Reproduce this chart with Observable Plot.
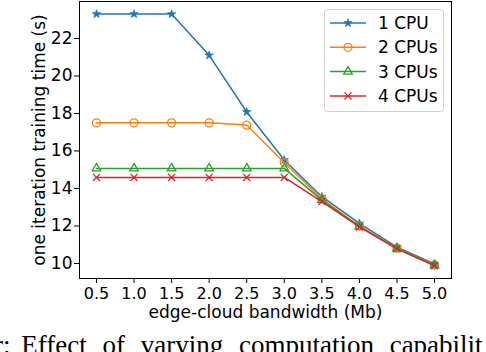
<!DOCTYPE html>
<html><head><meta charset="utf-8">
<script src="https://cdn.jsdelivr.net/npm/d3@7"></script>
<script src="https://cdn.jsdelivr.net/npm/@observablehq/plot@0.6"></script>
<style>
body{margin:0;background:#fff;}
#wrap{position:relative;width:486px;height:352px;overflow:hidden;background:#fff;}
#caption{position:absolute;left:-6px;top:332px;font-family:"Liberation Serif";font-size:27px;line-height:27px;white-space:nowrap;color:#000;}
</style></head><body><div id="wrap"></div>
<script>
const bandwidth = [0.5, 1.0, 1.5, 2.0, 2.5, 3.0, 3.5, 4.0, 4.5, 5.0];
const cpu1 = [23.3, 23.3, 23.3, 21.1, 18.08, 15.52, 13.56, 12.14, 10.87, 9.97];
const cpu2 = [17.5, 17.5, 17.5, 17.5, 17.38, 15.37, 13.45, 12.0, 10.82, 9.92];
const cpu3 = [15.07, 15.07, 15.07, 15.07, 15.07, 15.07, 13.38, 11.97, 10.8, 9.9];
const cpu4 = [14.59, 14.59, 14.59, 14.59, 14.59, 14.59, 13.3, 11.95, 10.78, 9.88];
const seriesNames = ["1 CPU", "2 CPUs", "3 CPUs", "4 CPUs"];
const seriesValues = [cpu1, cpu2, cpu3, cpu4];
const colors = ["#1f77b4", "#ff7f0e", "#2ca02c", "#d62728"];
const symbols = ["star", "circle", "triangle", "times"];
const symbolR = [2.6, 4, 3.2, 3.3];
const symbolFilled = [true, false, false, false];
const xTicks = [0.5, 1.0, 1.5, 2.0, 2.5, 3.0, 3.5, 4.0, 4.5, 5.0];
const yTicks = [10, 12, 14, 16, 18, 20, 22];
const xLabel = "edge-cloud bandwidth (Mb)";
const yLabel = "one iteration training time (s)";
const caption = "r: Effect of varying computation capabilit";

const FS = 17, TFS = 16;
const marks = [];
seriesValues.forEach((vals, i) => {
  const data = bandwidth.map((b, j) => ({x: b, y: vals[j]}));
  marks.push(Plot.line(data, {x: "x", y: "y", stroke: colors[i], strokeWidth: 1.5}));
  marks.push(Plot.dot(data, {
    x: "x", y: "y", symbol: () => symbols[i], r: symbolR[i],
    fill: symbolFilled[i] ? colors[i] : "none",
    stroke: colors[i], strokeWidth: symbolFilled[i] ? 0.8 : 1.3
  }));
});

const chart = Plot.plot({
  width: 486, height: 352,
  marginTop: 1, marginLeft: 79, marginRight: 35, marginBottom: 74,
  style: {fontFamily: "DejaVu Sans", fontSize: FS + "px", color: "#000", background: "#fff"},
  x: {domain: [0.274, 5.226]},
  y: {domain: [9.2, 23.97]},
  marks: [
    Plot.axisX({ticks: xTicks, tickFormat: d => d.toFixed(1), tickSize: 5, tickPadding: 4, label: null, fontSize: TFS}),
    Plot.axisY({ticks: yTicks, tickFormat: d => String(d), tickSize: 5, tickPadding: 2, label: null, fontSize: FS}),
    ...marks,
    Plot.frame({stroke: "#000", strokeWidth: 1}),
    Plot.text([xLabel], {text: d => d, frameAnchor: "bottom", dy: 34.5, lineAnchor: "middle", textAnchor: "middle", fontSize: FS}),
    Plot.text([yLabel], {text: d => d, frameAnchor: "left", dx: -40, rotate: -90, lineAnchor: "middle", textAnchor: "middle", fontSize: FS})
  ]
});
const wrap = document.getElementById("wrap");
wrap.appendChild(chart);

// legend
const lw = 120, lh = 103;
const legend = d3.create("svg").attr("width", lw).attr("height", lh)
  .style("position", "absolute").style("left", "324px").style("top", "9px")
  .style("font-family", "DejaVu Sans").style("font-size", FS + "px");
legend.append("rect").attr("x", 0.5).attr("y", 0.5).attr("width", lw - 1).attr("height", lh - 1)
  .attr("rx", 3).attr("fill", "#fff").attr("fill-opacity", 0.8).attr("stroke", "#d0d0d0");
const d3sym = {star: d3.symbolStar, circle: d3.symbolCircle, triangle: d3.symbolTriangle, times: d3.symbolTimes};
seriesNames.forEach((name, i) => {
  const yy = 14 + i * 24.3;
  const g = legend.append("g");
  g.append("line").attr("x1", 6).attr("x2", 42).attr("y1", yy).attr("y2", yy)
    .attr("stroke", colors[i]).attr("stroke-width", 1.5);
  g.append("path").attr("transform", `translate(24,${yy})`)
    .attr("d", d3.symbol(d3sym[symbols[i]], symbolR[i] * symbolR[i] * Math.PI)())
    .attr("fill", symbolFilled[i] ? colors[i] : "none")
    .attr("stroke", colors[i]).attr("stroke-width", symbolFilled[i] ? 0.8 : 1.3);
  g.append("text").attr("x", 54).attr("y", yy).attr("dy", "0.36em").text(name);
});
wrap.appendChild(legend.node());

// caption (cut off at the bottom edge, like the reference)
const cap = document.createElement("div");
cap.id = "caption";
const firstSpace = caption.indexOf(" ");
const s1 = document.createElement("span");
s1.style.wordSpacing = "4px";
s1.textContent = caption.slice(0, firstSpace + 1);
const s2 = document.createElement("span");
s2.style.wordSpacing = "9px";
s2.textContent = caption.slice(firstSpace + 1);
cap.appendChild(s1);
cap.appendChild(s2);
wrap.appendChild(cap);
</script>
</body></html>
